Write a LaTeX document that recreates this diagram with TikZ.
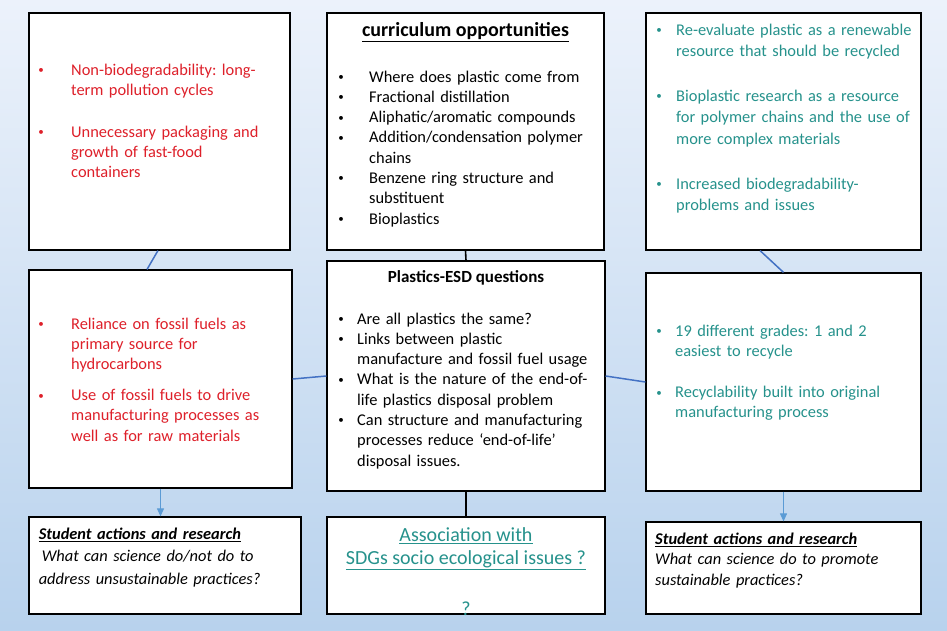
\documentclass[tikz,border=0pt]{standalone}
\usepackage{fontspec}
\setmainfont{Carlito}
\usetikzlibrary{arrows.meta,calc}
\definecolor{bgtop}{RGB}{236,242,251}
\definecolor{bgbot}{RGB}{184,210,237}
\definecolor{myred}{RGB}{222,32,42}
\definecolor{myteal}{RGB}{38,146,140}
\definecolor{connblue}{RGB}{68,114,196}
\definecolor{arrblue}{RGB}{91,155,213}
\newcommand{\smallbul}{\makebox[0pt]{\raisebox{1.6pt}{\fontsize{11}{11}\selectfont\textbullet}}}
\newenvironment{blst}[3]{\begin{list}{\smallbul}{%
  \setlength{\leftmargin}{#1}\setlength{\labelsep}{#2}\setlength{\labelwidth}{0pt}%
  \setlength{\itemsep}{#3}\setlength{\topsep}{0pt}\setlength{\parsep}{0pt}%
  \setlength{\partopsep}{0pt}\setlength{\itemindent}{0pt}\setlength{\listparindent}{0pt}%
  \setlength{\rightmargin}{0pt}}}{\end{list}}
\newcommand{\fst}{\rule{0pt}{13pt}}
\newcommand{\jline}[1]{\makebox[233pt][s]{#1}}
\tikzset{
  box/.style={draw=black, line width=1.2pt, fill=white, inner sep=0pt, rectangle},
  txt/.style={anchor=north west, inner sep=0pt, align=left},
  body/.style={font=\frenchspacing\fontsize{16.4}{20.3}\selectfont},
  conn/.style={draw=connblue, line width=1.5pt},
  blk/.style={draw=black, line width=1.6pt},
  arr/.style={draw=arrblue, line width=0.9pt, -{Triangle[length=8pt,width=7pt]}},
}
\begin{document}
\begin{tikzpicture}[x=1pt,y=-1pt]
\useasboundingbox (0,0) rectangle (947,630);
\shade[top color=bgtop, bottom color=bgbot] (0,0) rectangle (947,630);

% boxes
\node[box, minimum width=261pt, minimum height=237pt] (tl) at (159.5,131.5) {};
\node[box, minimum width=277pt, minimum height=237pt] (tc) at (465.5,131.5) {};
\node[box, minimum width=275pt, minimum height=237pt] (tr) at (783.5,131.5) {};
\node[box, minimum width=263pt, minimum height=218pt] (ml) at (160.5,379) {};
\node[box, minimum width=278pt, minimum height=230pt] (mc) at (466,376) {};
\node[box, minimum width=275pt, minimum height=218pt] (mr) at (783.5,382) {};
\node[box, minimum width=272pt, minimum height=97pt] (bl) at (165,565.5) {};
\node[box, minimum width=278pt, minimum height=97pt] (bc) at (466,565.5) {};
\node[box, minimum width=275pt, minimum height=92pt] (br) at (783.5,568) {};

% connectors
\draw[conn] ($(tl.south west)!0.494!(tl.south east)$) -- ($(ml.north west)!0.449!(ml.north east)$);
\draw[conn] (ml.east) -- (mc.west);
\draw[conn] (mc.east) -- (mr.west);
\draw[conn] ($(tr.south west)!0.415!(tr.south east)$) -- (mr.north);
\draw[blk] (tc.south) -- (mc.north);
\draw[blk, line width=2pt] (mc.south) -- (bc.north);
\draw[arr] (ml.south) -- (ml.south |- bl.north);
\draw[arr] (mr.south) -- (mr.south |- br.north);

% top-left
\node[txt, body, text=myred, text width=255pt] (tltext) at (29,54.5) {%
\begin{blst}{42pt}{30pt}{21.7pt}
\item \fst Non-biodegradability: long-\\term pollution cycles
\item Unnecessary packaging and\\growth of fast-food\\containers
\end{blst}};

% top-center
\node[anchor=base, inner sep=0pt, font=\bfseries\fontsize{20}{24}\selectfont] (tchead) at (465.5,36.5) {\underline{curriculum opportunities}};
\node[txt, body, text width=275pt] (tctext) at (327,61.5) {%
\begin{blst}{42pt}{28pt}{0pt}
\item \fst Where does plastic come from
\item Fractional distillation
\item Aliphatic/aromatic compounds
\item Addition/condensation polymer\\chains
\item Benzene ring structure and\\substituent
\item Bioplastics
\end{blst}};

% top-right
\node[txt, font=\frenchspacing\fontsize{16.4}{21.8}\selectfont, text=myteal, text width=275pt] (trtext) at (646,13) {%
\begin{blst}{30pt}{17pt}{22.5pt}
\item \fst \jline{Re-evaluate plastic as a renewable}\\resource that should be recycled
\item \jline{Bioplastic research as a resource}\\\jline{for polymer chains and the use of}\\more complex materials
\item Increased biodegradability-\\problems and issues
\end{blst}};

% middle-left
\node[txt, body, text=myred, text width=260pt] (mltext) at (29,308.5) {%
\begin{blst}{42pt}{30pt}{10.7pt}
\item \fst Reliance on fossil fuels as\\primary source for\\hydrocarbons
\item Use of fossil fuels to drive\\manufacturing processes as\\well as for raw materials
\end{blst}};

% middle-center
\node[anchor=base, inner sep=0pt, font=\bfseries\fontsize{17}{20}\selectfont] (mchead) at (466,282.5) {Plastics-ESD questions};
\node[txt, body, text width=276pt] (mctext) at (327,303.5) {%
\begin{blst}{30pt}{16pt}{0pt}
\item \fst Are all plastics the same?
\item Links between plastic\\manufacture and fossil fuel usage
\item What is the nature of the end-of-\\life plastics disposal problem
\item Can structure and manufacturing\\processes reduce `end-of-life'\\disposal issues.
\end{blst}};

% middle-right
\node[txt, body, text=myteal, text width=274pt] (mrtext) at (646,315.5) {%
\begin{blst}{29pt}{16pt}{21pt}
\item \fst 19 different grades: 1 and 2\\easiest to recycle
\item Recyclability built into original\\manufacturing process
\end{blst}};

% bottom-left
\node[txt, font=\frenchspacing\itshape\fontsize{16.4}{22.5}\selectfont, text width=260pt] (bltext) at (38.6,526) {%
\fst\textbf{\underline{Student actions and research}}\\
\hspace*{3pt}What can science do/not do to\\
address unsustainable practices?};

% bottom-center
\node[anchor=north, inner sep=0pt, align=center, text=myteal, font=\fontsize{20}{23}\selectfont] (bctext) at (466,526.5) {%
\rule{0pt}{15pt}\underline{Association with}\\\underline{SDGs socio ecological issues ?}};
\node[anchor=base, inner sep=0pt, text=myteal, font=\fontsize{20}{23}\selectfont] (bcq) at (466,615) {?};

% bottom-right
\node[txt, font=\frenchspacing\itshape\fontsize{16.4}{20.5}\selectfont, text width=262pt] (brtext) at (655,531) {%
\fst\textbf{\underline{Student actions and research}}\\
What can science do to promote\\
sustainable practices?};
\end{tikzpicture}
\end{document}
